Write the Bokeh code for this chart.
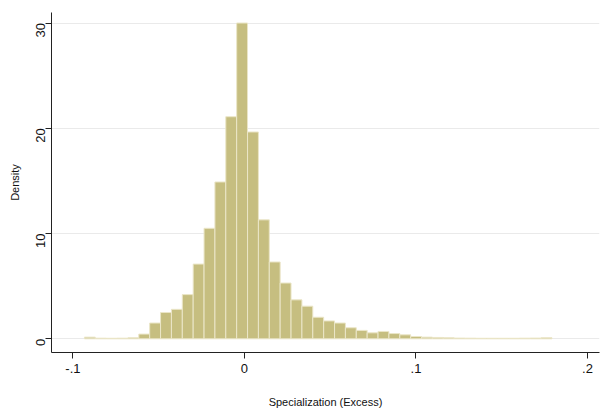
from bokeh.embed import file_html
from bokeh.models import FixedTicker, Range1d
from bokeh.plotting import figure
from bokeh.resources import INLINE
import numpy as np

bin_start = -0.0933
bin_width = 0.00634
density = [0.16, 0.06, 0.05, 0.06, 0.1, 0.45, 1.5, 2.5, 2.8, 4.2, 7.1, 10.5, 14.9, 21.1, 30.0,
           19.65, 11.3, 7.3, 5.3, 3.7, 3.1, 2.05, 1.7, 1.5, 1.05, 0.8, 0.57, 0.7, 0.5, 0.38,
           0.22, 0.16, 0.13, 0.1, 0.07, 0.06, 0.05, 0.05, 0.05, 0.05, 0.06, 0.07, 0.1]
x_ticks = [-0.1, 0, 0.1, 0.2]
x_labels = {-0.1: "-.1", 0: "0", 0.1: ".1", 0.2: ".2"}
y_ticks = [0, 10, 20, 30]

edges = bin_start + bin_width * np.arange(len(density) + 1)

p = figure(width=603, height=410, output_backend="svg", toolbar_location=None,
           x_range=Range1d(-0.1125, 0.207), y_range=Range1d(-1.3, 31.0),
           min_border_left=51, min_border_right=4, min_border_top=12, min_border_bottom=54)
p.outline_line_color = None
p.quad(left=edges[:-1], right=edges[1:], bottom=0, top=density,
       fill_color="#c6be80", line_color="#ebe6c8", line_width=1)

p.xgrid.grid_line_color = None
p.ygrid.grid_line_color = "#eaeaea"
p.xaxis.ticker = FixedTicker(ticks=x_ticks)
p.xaxis.major_label_overrides = x_labels
p.yaxis.ticker = FixedTicker(ticks=y_ticks)
p.yaxis.major_label_orientation = np.pi / 2
p.xaxis.axis_label = "Specialization (Excess)"
p.yaxis.axis_label = "Density"
for ax in (p.xaxis, p.yaxis):
    ax.minor_tick_line_color = None
    ax.major_tick_out = 6
    ax.major_tick_in = 0
    ax.axis_line_color = "#222222"
    ax.major_tick_line_color = "#222222"
    ax.major_label_text_font = "Liberation Sans"
    ax.major_label_text_font_size = "13px"
    ax.major_label_text_color = "#111111"
    ax.axis_label_text_font = "Liberation Sans"
    ax.axis_label_text_font_style = "normal"
    ax.axis_label_text_font_size = "11px"
    ax.axis_label_text_color = "#111111"
p.xaxis.axis_label_standoff = 20
p.yaxis.axis_label_standoff = 8

open("out.html", "w").write(file_html(p, INLINE))
